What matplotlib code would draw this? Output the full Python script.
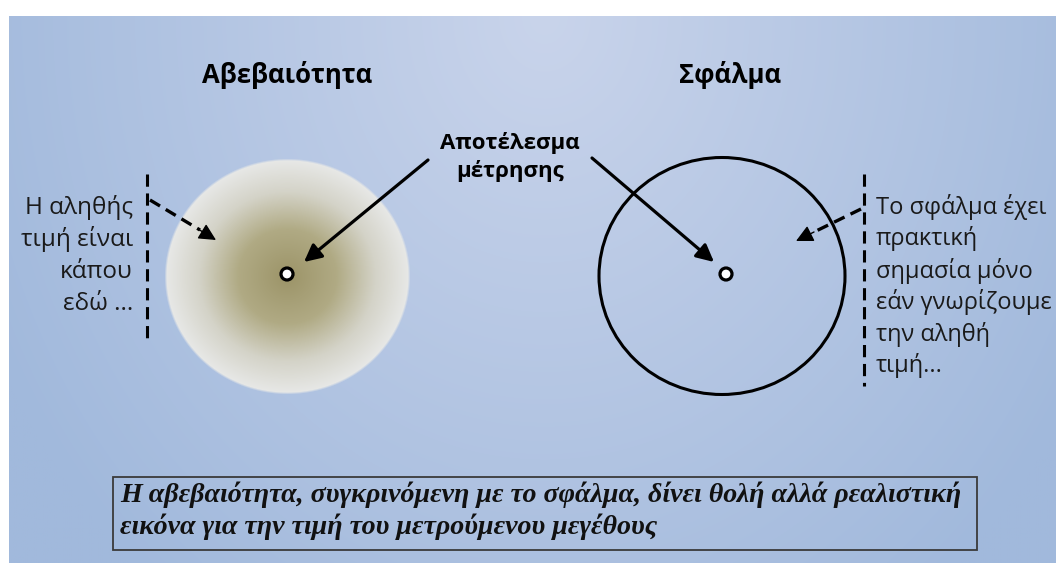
import numpy as np
import matplotlib.pyplot as plt
from matplotlib.patches import Rectangle, Circle, Ellipse
from matplotlib.colors import LinearSegmentedColormap

# texts of the diagram
titles = ["Αβεβαιότητα", "Σφάλμα"]
result_label = "Αποτέλεσμα\nμέτρησης"
left_lines = ["Η αληθής", "τιμή είναι", "κάπου", "εδώ ..."]
right_lines = ["Το σφάλμα έχει", "πρακτική", "σημασία μόνο", "εάν γνωρίζουμε", "την αληθή", "τιμή..."]
note_lines = ["Η αβεβαιότητα, συγκρινόμενη με το σφάλμα, δίνει θολή αλλά ρεαλιστική",
              "εικόνα για την τιμή του μετρούμενου μεγέθους"]

W, H = 1056, 563
plt.rcParams['font.family'] = ['Open Sans', 'DejaVu Sans']

fig = plt.figure(figsize=(W / 100, H / 100), dpi=100)
ax = fig.add_axes([0, 0, 1, 1])
ax.set_xlim(0, W)
ax.set_ylim(H, 0)
ax.axis('off')

# background gradient (light at top centre, bluer to the sides)
yy, xx = np.mgrid[0:H, 0:W]
t = np.sqrt(((xx - 540) / 620.0) ** 2 + ((yy - 0) / 760.0) ** 2)
t = np.clip(t, 0, 1)
c0 = np.array([0xc9, 0xd4, 0xeb]) / 255
c1 = np.array([0xa1, 0xb9, 0xdc]) / 255
bg = c0[None, None, :] * (1 - t[..., None]) + c1[None, None, :] * t[..., None]
ax.imshow(bg, extent=(9, W, H, 16), zorder=0, interpolation='bilinear')

# blurry blob for uncertainty
cx, cy, rx, ry = 287, 276, 123, 118
by, bx = np.mgrid[cy - ry:cy + ry, cx - rx:cx + rx]
r = np.sqrt(((bx - cx) / rx) ** 2 + ((by - cy) / ry) ** 2)
blob_cmap = LinearSegmentedColormap.from_list(
    'blob', [(0, '#9c9468'), (0.4, '#b0aa84'), (0.72, '#d4d3c8'), (1.0, '#e8e9e8')])
rgba = blob_cmap(np.clip(r, 0, 1))
rgba[..., 3] = np.clip((1.0 - r) / 0.02, 0, 1)
ax.imshow(rgba, extent=(cx - rx, cx + rx, cy + ry, cy - ry), zorder=1, interpolation='bilinear')

# circle for error
ax.add_patch(Ellipse((722, 276), 246, 237, fill=False, edgecolor='black', lw=2.2, zorder=2))

# measurement points
for px, py in [(287, 274), (726, 274)]:
    ax.add_patch(Circle((px, py), 6, facecolor='white', edgecolor='black', lw=2.3, zorder=5))

# titles
ax.text(287, 75, titles[0], ha='center', va='center', fontsize=18.5, fontweight='bold', zorder=6)
ax.text(730, 75, titles[1], ha='center', va='center', fontsize=18.5, fontweight='bold', zorder=6)
ax.text(510, 157, result_label, ha='center', va='center', fontsize=16, fontweight='bold',
        linespacing=1.35, zorder=6)

# solid arrows from label to points
arrow_kw = dict(arrowstyle='-|>', color='black', lw=2.3, mutation_scale=26, shrinkA=0, shrinkB=0)
ax.annotate('', xy=(304, 262), xytext=(428, 160), arrowprops=arrow_kw, zorder=4)
ax.annotate('', xy=(714, 262), xytext=(592, 158), arrowprops=arrow_kw, zorder=4)

# dashed vertical lines
ax.plot([147, 147], [174, 342], color='black', lw=2.2, dashes=(4, 2.2), zorder=4)
ax.plot([864, 864], [174, 386], color='black', lw=2.2, dashes=(4, 2.2), zorder=4)

# dashed arrows
ax.plot([150, 200], [200, 230], color='black', lw=2.4, dashes=(3.5, 2), zorder=4)
ax.annotate('', xy=(216, 240), xytext=(198, 229),
            arrowprops=dict(arrowstyle='-|>', color='black', lw=1, mutation_scale=26,
                            shrinkA=0, shrinkB=0), zorder=4)
ax.plot([861, 812], [209, 233], color='black', lw=2.4, dashes=(3.5, 2), zorder=4)
ax.annotate('', xy=(796, 241), xytext=(814, 232),
            arrowprops=dict(arrowstyle='-|>', color='black', lw=1, mutation_scale=26,
                            shrinkA=0, shrinkB=0), zorder=4)

# side texts
for i, s in enumerate(left_lines):
    ax.text(133, 207 + i * 32.3, s, ha='right', va='center', fontsize=17.5, color='#1a1a1a', zorder=6)
for i, s in enumerate(right_lines):
    ax.text(876, 207 + i * 31.8, s, ha='left', va='center', fontsize=17, color='#1a1a1a', zorder=6)

# note box at the bottom
ax.add_patch(Rectangle((113, 477), 864, 73, fill=False, edgecolor='#3a3a3a', lw=1.3, zorder=6))
for i, s in enumerate(note_lines):
    ax.text(120, 495 + i * 32, s, ha='left', va='center', fontsize=20.2, family='Liberation Serif',
            fontweight='bold', fontstyle='italic', color='#111111', zorder=7)

fig.savefig('out.png', dpi=100)
